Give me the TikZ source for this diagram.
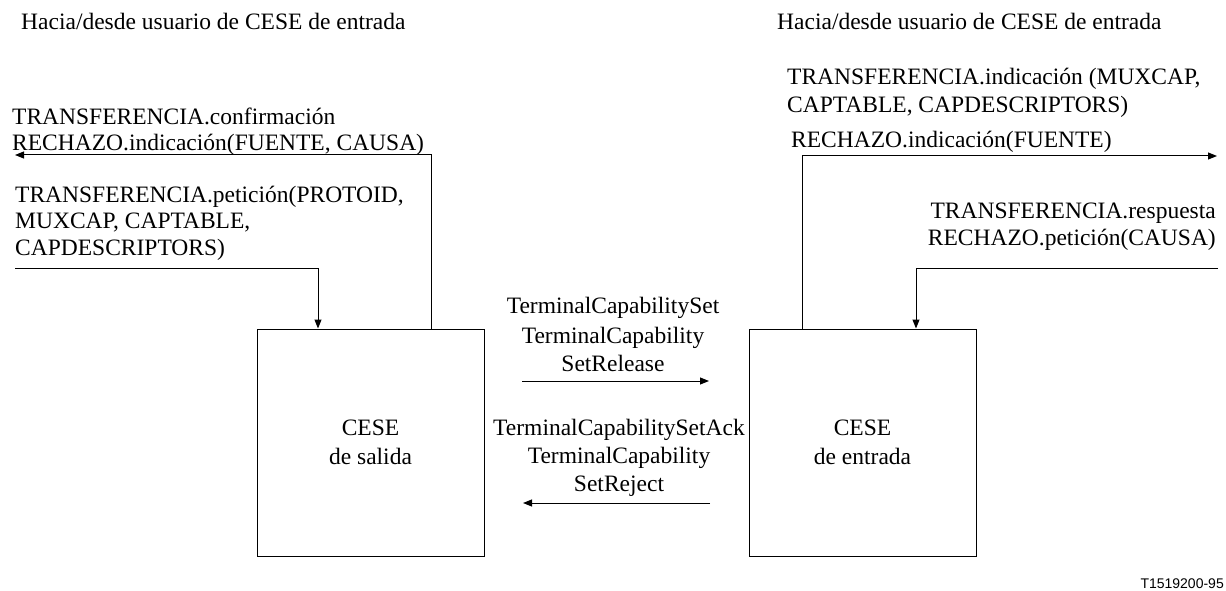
\documentclass[tikz,border=0pt]{standalone}
\usepackage{fontspec}
\setmainfont{Liberation Serif}
\newfontfamily\tagfont{Liberation Sans}
\usetikzlibrary{arrows.meta}
\begin{document}
\begin{tikzpicture}[x=1pt,y=-1pt,
  lbl/.style={inner sep=0pt,font=\fontsize{23.5}{28}\selectfont},
  cese/.style={draw,line width=1pt,minimum width=227pt,minimum height=227pt,inner sep=0pt,align=center,font=\fontsize{23.5}{29}\selectfont},
  conn/.style={line width=1pt},
  arr/.style={conn,-{Triangle[length=9pt,width=7pt]}}]
\useasboundingbox (0,0) rectangle (1226,591);
% boxes
\node[cese] (out) at (370.5,442.5) {CESE\\de salida};
\node[cese] (in) at (862.5,442.5) {CESE\\de entrada};
% headers
\node[lbl,anchor=base west] (hl) at (21,30) {Hacia/desde usuario de CESE de entrada};
\node[lbl,anchor=base west] (hr) at (777,30) {Hacia/desde usuario de CESE de entrada};
% left labels
\node[lbl,anchor=base west] (l1) at (12,125) {TRANSFERENCIA.confirmación};
\node[lbl,anchor=base west] (l2) at (12,150) {RECHAZO.indicación(FUENTE, CAUSA)};
\node[lbl,anchor=base west] (l3) at (15,202) {TRANSFERENCIA.petición(PROTOID,};
\node[lbl,anchor=base west] (l4) at (15,228) {MUXCAP, CAPTABLE,};
\node[lbl,anchor=base west] (l5) at (15,255) {CAPDESCRIPTORS)};
% right labels
\node[lbl,anchor=base west] (r1) at (787,85) {TRANSFERENCIA.indicación (MUXCAP,};
\node[lbl,anchor=base west] (r2) at (787,113) {CAPTABLE, CAPDESCRIPTORS)};
\node[lbl,anchor=base west] (r3) at (791,147) {RECHAZO.indicación(FUENTE)};
\node[lbl,anchor=base east] (r4) at (1216,218) {TRANSFERENCIA.respuesta};
\node[lbl,anchor=base east] (r5) at (1216,245) {RECHAZO.petición(CAUSA)};
% middle labels
\node[lbl,anchor=base] (m1) at (613,313) {TerminalCapabilitySet};
\node[lbl,anchor=base] (m2) at (613,343) {TerminalCapability};
\node[lbl,anchor=base] (m3) at (613,371) {SetRelease};
\node[lbl,anchor=base] (m4) at (619,435) {TerminalCapabilitySetAck};
\node[lbl,anchor=base] (m5) at (619,463) {TerminalCapability};
\node[lbl,anchor=base] (m6) at (619,491) {SetReject};
% tag
\node[inner sep=0pt,anchor=base east,font=\tagfont\fontsize{14}{16}\selectfont] (tag) at (1224,588) {T1519200-95};
% connector ends
\coordinate (lo) at (15,155);
\coordinate (li) at (15,268);
\coordinate (ro) at (1217,156);
\coordinate (ri) at (1218,268);
\coordinate (a1) at (522,381);
\coordinate (a2) at (709,381);
\coordinate (b1) at (710,503);
\coordinate (b2) at (523,503);
% connectors
\draw[arr] ([xshift=60.5pt]out.north) |- (lo);
\draw[arr] (li) -| ([xshift=-52.5pt]out.north);
\draw[arr] ([xshift=-60.5pt]in.north) |- (ro);
\draw[arr] (ri) -| ([xshift=53.5pt]in.north);
\draw[arr] (a1) -- (a2);
\draw[arr] (b1) -- (b2);
\end{tikzpicture}
\end{document}
